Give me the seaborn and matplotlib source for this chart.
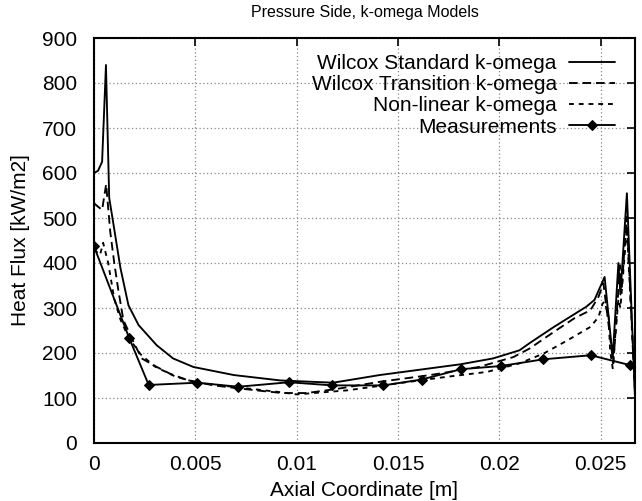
import matplotlib
matplotlib.use("Agg")
import numpy as np
import pandas as pd
import seaborn as sns
import matplotlib.pyplot as plt

# ---- data ----
x_std = [0, 0.0002, 0.0004, 0.00059, 0.00075, 0.001, 0.0013, 0.0017, 0.0022, 0.0031, 0.0039,
         0.0049, 0.0069, 0.0092, 0.0118, 0.0141, 0.0166, 0.0181, 0.0197, 0.021, 0.0215, 0.0227,
         0.0243, 0.0247, 0.0252, 0.0256, 0.02588, 0.02598, 0.0263, 0.0267]
y_std = [600, 605, 625, 840, 545, 475, 390, 306, 262, 217, 188,
         169, 151, 139, 134, 151, 166, 175, 188, 206, 222, 258,
         303, 318, 369, 190, 400, 330, 555, 100]

x_tr = [0, 0.0002, 0.0004, 0.0006, 0.0008, 0.001, 0.0012, 0.00145, 0.0019, 0.00235, 0.0031,
        0.00375, 0.0046, 0.0059, 0.008, 0.0093, 0.0105, 0.0121, 0.0141, 0.0166, 0.019, 0.0207,
        0.0215, 0.0227, 0.0237, 0.0245, 0.0249, 0.02514, 0.02547, 0.02563, 0.02588, 0.02596,
        0.02605, 0.02629, 0.0267]
y_tr = [533, 525, 518, 575, 470, 400, 340, 273, 229, 188, 169,
        154, 140, 128, 117, 111, 111, 121, 136, 151, 169, 191,
        210, 247, 277, 295, 325, 355, 236, 177, 340, 395,
        347, 503, 117]

x_nl = [0, 0.0003, 0.00045, 0.0007, 0.001, 0.0013, 0.0017, 0.0023, 0.003, 0.004, 0.005,
        0.007, 0.009, 0.01, 0.0125, 0.0149, 0.0174, 0.0194, 0.021, 0.0222, 0.0234, 0.0245,
        0.0249, 0.0251, 0.0252, 0.0254, 0.02547, 0.0256, 0.02588, 0.02598, 0.0263, 0.0267]
y_nl = [430, 418, 445, 400, 320, 275, 235, 197, 170, 148, 135,
        124, 114, 108, 117, 132, 147, 158, 177, 199, 229, 258,
        280, 310, 314, 280, 206, 166, 320, 300, 480, 110]

x_meas = [0, 0.00173, 0.0027, 0.0051, 0.00712, 0.00963, 0.01176, 0.01428, 0.01617, 0.01811,
          0.02007, 0.02218, 0.02452, 0.02646]
y_meas = [437, 234, 129, 134, 125, 135, 128, 128, 141, 164,
          171, 186, 195, 173]

labels = ["Wilcox Standard k-omega", "Wilcox Transition k-omega",
          "Non-linear k-omega", "Measurements"]
x_ticks = [0, 0.005, 0.01, 0.015, 0.02, 0.025]
x_ticklabels = ["0", "0.005", "0.01", "0.015", "0.02", "0.025"]
y_ticks = [0, 100, 200, 300, 400, 500, 600, 700, 800, 900]

sns.set_theme(style="white")
plt.rcParams['font.family'] = ['Liberation Sans', 'DejaVu Sans']
plt.rcParams['text.color'] = 'black'
plt.rcParams['axes.labelcolor'] = 'black'

fig = plt.figure(figsize=(6.42, 5.01), dpi=100)
ax = fig.add_axes([94 / 642, 58 / 501, 541 / 642, 405 / 501])

series = [
    (labels[0], x_std, y_std, dict(linestyle='-')),
    (labels[1], x_tr, y_tr, dict(linestyle=(0, (4.6, 2.6)))),
    (labels[2], x_nl, y_nl, dict(linestyle=(0, (2.6, 2.6)))),
    (labels[3], x_meas, y_meas, dict(linestyle='-', marker='D', markersize=5,
                                     markeredgecolor='black', markerfacecolor='black')),
]
handles = []
for name, xs, ys, style in series:
    df = pd.DataFrame({"x": xs, "y": ys})
    sns.lineplot(data=df, x="x", y="y", ax=ax, sort=False, estimator=None,
                 color='black', linewidth=1.35, label=name, legend=False, **style)
    handles.append(ax.lines[-1])

ax.set_xlim(0, 0.0267)
ax.set_ylim(0, 900)
ax.set_xticks(x_ticks)
ax.set_xticklabels(x_ticklabels)
ax.set_yticks(y_ticks)
ax.tick_params(direction='in', top=True, right=True, length=6, width=1.2,
               labelsize=15, pad=9, colors='black')
ax.tick_params(axis='y', pad=12)
for s in ax.spines.values():
    s.set_color('black')
    s.set_linewidth(1.5)
ax.set_axisbelow(True)
ax.grid(True, linestyle=(0, (1, 2)), color='#8a8a8a', linewidth=0.9)

ax.set_xlabel("Axial Coordinate [m]", fontsize=15, labelpad=5, color='black')
ax.set_ylabel("Heat Flux [kW/m2]", fontsize=15, labelpad=9, color='black')
ax.set_title("Pressure Side, k-omega Models", fontsize=11.5, pad=15, color='black')

leg = ax.legend(handles, labels, loc='upper right', bbox_to_anchor=(0.963, 0.961),
                frameon=False, markerfirst=False, handlelength=2.2, handletextpad=0.6,
                labelspacing=0.11, borderpad=0, borderaxespad=0, fontsize=15, numpoints=1)
for t in leg.get_texts():
    t.set_color('black')

fig.savefig("out.png", dpi=100)
